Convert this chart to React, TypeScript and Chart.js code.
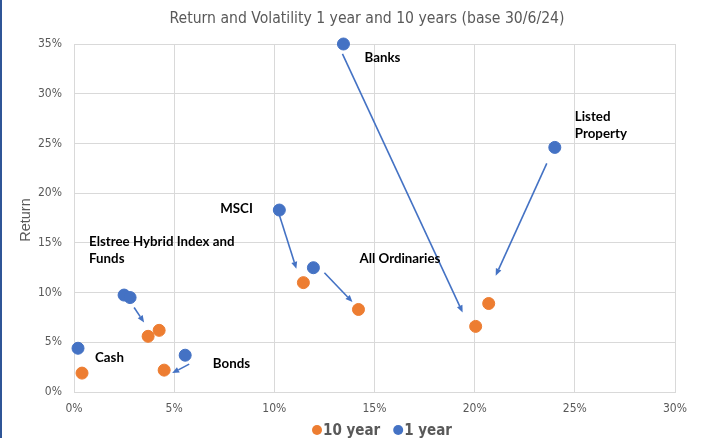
import React, { useEffect, useRef } from "react";
import { Chart, registerables } from "chart.js";

Chart.register(...registerables);

// Volatility (x, %) and return (y, %)
const tenYearVolatility = [0.4, 3.7, 4.25, 4.5, 11.45, 14.2, 20.05, 20.7];
const tenYearReturn = [1.9, 5.6, 6.2, 2.2, 11.0, 8.3, 6.6, 8.9];
const oneYearVolatility = [0.2, 2.5, 2.8, 5.55, 10.25, 11.95, 13.45, 24.0];
const oneYearReturn = [4.4, 9.75, 9.5, 3.7, 18.3, 12.5, 35.0, 24.6];

const chartTitle = "Return and Volatility 1 year and 10 years (base 30/6/24)";
const yAxisTitle = "Return";

// Annotation labels (data coordinates: left edge x, middle y of first line)
const labelTexts = [
  ["Banks"],
  ["Listed", "Property"],
  ["MSCI"],
  ["Elstree Hybrid Index and", "Funds"],
  ["All Ordinaries"],
  ["Cash"],
  ["Bonds"],
];
const labelX = [14.5, 25.0, 7.3, 0.75, 14.25, 1.05, 6.93];
const labelY = [33.6, 27.7, 18.4, 15.1, 13.4, 3.4, 2.8];

// Arrows (data coordinates)
const arrowFromX = [3.0, 5.75, 10.25, 12.5, 13.4, 23.6];
const arrowFromY = [8.5, 2.8, 17.8, 12.0, 34.0, 23.0];
const arrowToX = [3.5, 4.9, 11.1, 13.9, 19.4, 21.05];
const arrowToY = [7.0, 1.9, 12.4, 9.05, 8.0, 11.7];

const xTicksMax = 30;
const yTicksMax = 35;
const tickStep = 5;

const ORANGE = "#ED7D31";
const BLUE = "#4472C4";
const GRAY = "#595959";
const GRID = "#D9D9D9";
const NARROW = "'Liberation Sans Narrow', 'DejaVu Sans Condensed', sans-serif";

const annotationPlugin = {
  id: "annotations",
  beforeDraw(chart: any) {
    const ctx = chart.ctx;
    ctx.save();
    ctx.fillStyle = "#ffffff";
    ctx.fillRect(0, 0, chart.width, chart.height);
    ctx.fillStyle = "#2F5597";
    ctx.fillRect(0, 0, 2, chart.height);
    ctx.restore();
  },
  afterDatasetsDraw(chart: any) {
    const ctx = chart.ctx;
    const xs = chart.scales.x;
    const ys = chart.scales.y;
    ctx.save();
    // arrows
    ctx.strokeStyle = BLUE;
    ctx.fillStyle = BLUE;
    ctx.lineWidth = 1.6;
    for (let i = 0; i < arrowFromX.length; i++) {
      const x1 = xs.getPixelForValue(arrowFromX[i]);
      const y1 = ys.getPixelForValue(arrowFromY[i]);
      const x2 = xs.getPixelForValue(arrowToX[i]);
      const y2 = ys.getPixelForValue(arrowToY[i]);
      const ang = Math.atan2(y2 - y1, x2 - x1);
      const head = 7;
      const bx = x2 - head * Math.cos(ang);
      const by = y2 - head * Math.sin(ang);
      ctx.beginPath();
      ctx.moveTo(x1, y1);
      ctx.lineTo(bx, by);
      ctx.stroke();
      ctx.beginPath();
      ctx.moveTo(x2, y2);
      ctx.lineTo(bx + 3 * Math.sin(ang), by - 3 * Math.cos(ang));
      ctx.lineTo(bx - 3 * Math.sin(ang), by + 3 * Math.cos(ang));
      ctx.closePath();
      ctx.fill();
    }
    // labels
    ctx.fillStyle = "#000000";
    ctx.font = "bold 13.3px Lato, 'Liberation Sans', sans-serif";
    ctx.textBaseline = "middle";
    ctx.textAlign = "left";
    for (let i = 0; i < labelTexts.length; i++) {
      const x = xs.getPixelForValue(labelX[i]);
      const y = ys.getPixelForValue(labelY[i]);
      labelTexts[i].forEach((t, j) => ctx.fillText(t, x, y + j * 17));
    }
    ctx.restore();
  },
  afterDraw(chart: any) {
    const ctx = chart.ctx;
    ctx.save();
    // title
    ctx.fillStyle = GRAY;
    ctx.font = `15.6px ${NARROW}`;
    ctx.textAlign = "center";
    ctx.textBaseline = "middle";
    ctx.fillText(chartTitle, 367, 19);
    // y axis title
    ctx.save();
    ctx.translate(26, 220);
    ctx.rotate(-Math.PI / 2);
    ctx.font = "14.5px 'Liberation Sans', sans-serif";
    ctx.fillText(yAxisTitle, 0, 0);
    ctx.restore();
    // legend
    const items = chart.data.datasets.map((d: any) => ({ text: d.label, color: d.backgroundColor }));
    ctx.font = `bold 15px ${NARROW}`;
    ctx.textAlign = "left";
    const r = 5;
    const gap = 1;
    const itemGap = 13;
    const widths = items.map((it: any) => 2 * r + gap + ctx.measureText(it.text).width);
    const total = widths.reduce((a: number, b: number) => a + b, 0) + itemGap * (items.length - 1);
    let x = 382 - total / 2;
    const y = 430;
    items.forEach((it: any, i: number) => {
      ctx.fillStyle = it.color;
      ctx.beginPath();
      ctx.arc(x + r, y, r, 0, Math.PI * 2);
      ctx.fill();
      ctx.fillStyle = GRAY;
      ctx.fillText(it.text, x + 2 * r + gap, y + 1);
      x += widths[i] + itemGap;
    });
    ctx.restore();
  },
};

export default function App() {
  const ref = useRef<HTMLCanvasElement>(null);
  useEffect(() => {
    if (!ref.current) return;
    const chart = new Chart(ref.current, {
      type: "scatter",
      data: {
        datasets: [
          {
            label: "10 year",
            data: tenYearVolatility.map((v, i) => ({ x: v, y: tenYearReturn[i] })),
            backgroundColor: ORANGE,
            borderColor: ORANGE,
            pointRadius: 6,
            clip: false,
          },
          {
            label: "1 year",
            data: oneYearVolatility.map((v, i) => ({ x: v, y: oneYearReturn[i] })),
            backgroundColor: BLUE,
            borderColor: BLUE,
            pointRadius: 6,
            clip: false,
          },
        ],
      },
      options: {
        animation: false,
        responsive: false,
        layout: { padding: { left: 0, right: 26, top: 44, bottom: 0 } },
        plugins: {
          legend: { display: false },
          tooltip: { enabled: false },
          title: { display: false },
        },
        scales: {
          x: {
            type: "linear",
            min: 0,
            max: xTicksMax,
            ticks: {
              stepSize: tickStep,
              color: GRAY,
              font: { family: NARROW, size: 12 },
              padding: 10,
              callback: (v: any) => v + "%",
            },
            grid: { color: GRID, drawTicks: false },
            border: { color: GRID },
            afterFit: (s: any) => {
              s.height = 46;
            },
          },
          y: {
            type: "linear",
            min: 0,
            max: yTicksMax,
            ticks: {
              stepSize: tickStep,
              color: GRAY,
              font: { family: NARROW, size: 12 },
              padding: 12,
              callback: (v: any) => v + "%",
            },
            grid: { color: GRID, drawTicks: false },
            border: { color: GRID },
            afterFit: (s: any) => {
              s.width = 74;
            },
          },
        },
      },
      plugins: [annotationPlugin],
    });
    return () => chart.destroy();
  }, []);
  return (
    <div style={{ position: "absolute", left: 0, top: 0, width: 701, height: 438 }}>
      <canvas ref={ref} width={701} height={438} />
    </div>
  );
}
